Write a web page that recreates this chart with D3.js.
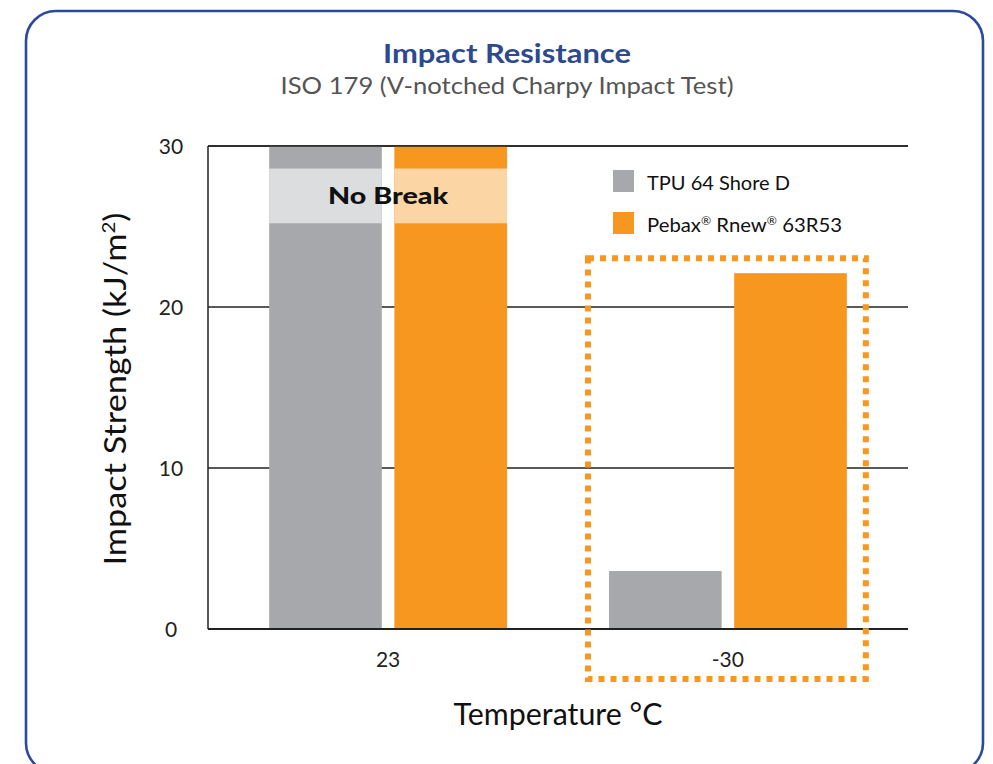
<!DOCTYPE html>
<html><head><meta charset="utf-8">
<script src="https://cdn.jsdelivr.net/npm/d3@7"></script>
<style>html,body{margin:0;padding:0;background:#fff;}svg{display:block;}</style>
</head><body>
<script>
const categories = ["23", "-30"];
const seriesNames = ["TPU 64 Shore D", "Pebax® Rnew® 63R53"];
const tpuValues = [30, 3.6];
const pebaxValues = [30, 22.1];
const noBreak = [true, false];
const noBreakRange = [25.2, 28.6];
const yTicks = [0, 10, 20, 30];
const highlightCategory = "-30";

const W = 993, H = 764;
const svg = d3.select("body").append("svg").attr("width", W).attr("height", H);
const font = "Lato, 'Open Sans', sans-serif";

svg.append("rect").attr("x", 26).attr("y", 11).attr("width", 957).attr("height", 762)
  .attr("rx", 30).attr("fill", "#fff").attr("stroke", "#2b4a9b").attr("stroke-width", 2.6);

svg.append("text").attr("x", 507).attr("y", 63).attr("text-anchor", "middle")
  .attr("font-family", font).attr("font-weight", 700).attr("font-size", 26)
  .attr("fill", "#2e4a8e").attr("textLength", 248).attr("lengthAdjust", "spacingAndGlyphs")
  .text("Impact Resistance");
svg.append("text").attr("x", 507).attr("y", 94).attr("text-anchor", "middle")
  .attr("font-family", font).attr("font-size", 23)
  .attr("fill", "#555").attr("textLength", 453).attr("lengthAdjust", "spacingAndGlyphs")
  .text("ISO 179 (V-notched Charpy Impact Test)");

const x0 = 208, x1 = 908, yb = 629, yt = 146;
const y = d3.scaleLinear().domain([0, 30]).range([yb, yt]);
const xg = d3.scaleBand().domain(categories).range([x0, x1]).paddingInner(0.3).paddingOuter(0.18);
const xs = d3.scaleBand().domain([0, 1]).range([0, xg.bandwidth()]).paddingInner(0.1);
const colors = ["#a7a8ab", "#f7971f"];
const light = ["#dcdddf", "#fbd5a4"];

const data = categories.map((c, i) => ({cat: c, vals: [tpuValues[i], pebaxValues[i]], nb: noBreak[i]}));

// gridlines
svg.append("g").selectAll("line").data(yTicks.filter(t => t > 0)).join("line")
  .attr("x1", x0).attr("x2", x1).attr("y1", d => y(d)).attr("y2", d => y(d))
  .attr("stroke", "#222").attr("stroke-width", 1.4);

// bars
const g = svg.append("g").selectAll("g").data(data).join("g")
  .attr("transform", d => `translate(${xg(d.cat)},0)`);
g.selectAll("rect.bar").data(d => d.vals.map((v, k) => ({v, k}))).join("rect")
  .attr("class", "bar")
  .attr("x", d => xs(d.k)).attr("width", xs.bandwidth())
  .attr("y", d => y(d.v)).attr("height", d => y(0) - y(d.v))
  .attr("fill", d => colors[d.k]);
g.filter(d => d.nb).selectAll("rect.nb").data([0, 1]).join("rect")
  .attr("class", "nb")
  .attr("x", k => xs(k)).attr("width", xs.bandwidth())
  .attr("y", y(noBreakRange[1])).attr("height", y(noBreakRange[0]) - y(noBreakRange[1]))
  .attr("fill", k => light[k]);
g.filter(d => d.nb).append("text")
  .attr("x", xg.bandwidth() / 2).attr("y", (y(noBreakRange[0]) + y(noBreakRange[1])) / 2 + 8)
  .attr("text-anchor", "middle").attr("font-family", font).attr("font-weight", 900)
  .attr("font-size", 23).attr("fill", "#111").attr("textLength", 120).attr("lengthAdjust", "spacingAndGlyphs")
  .text("No Break");

// axes lines
svg.append("line").attr("x1", x0).attr("x2", x1).attr("y1", yt).attr("y2", yt)
  .attr("stroke", "#222").attr("stroke-width", 1.5);
svg.append("line").attr("x1", x0).attr("x2", x1).attr("y1", yb).attr("y2", yb)
  .attr("stroke", "#222").attr("stroke-width", 2);
svg.append("line").attr("x1", x0).attr("x2", x0).attr("y1", yt).attr("y2", yb)
  .attr("stroke", "#222").attr("stroke-width", 1.5);

// y ticks
svg.append("g").selectAll("text").data(yTicks).join("text")
  .attr("x", 171).attr("y", d => y(d) + 8).attr("text-anchor", "middle")
  .attr("font-family", font).attr("font-size", 21).attr("fill", "#222").text(d => d);

// x ticks
svg.append("g").selectAll("text").data(categories).join("text")
  .attr("x", d => xg(d) + xg.bandwidth() / 2).attr("y", 667).attr("text-anchor", "middle")
  .attr("font-family", font).attr("font-size", 21).attr("fill", "#222").text(d => d);

// highlight dotted box
const hb = xg(highlightCategory);
svg.append("rect").attr("x", hb - 21).attr("y", y(22.1) - 15)
  .attr("width", xg.bandwidth() + 40).attr("height", 679 - (y(22.1) - 15))
  .attr("fill", "none").attr("stroke", "#f7971f").attr("stroke-width", 6)
  .attr("stroke-dasharray", "6,6");

// axis titles
svg.append("text").attr("transform", "translate(126,389) rotate(-90)").attr("text-anchor", "middle")
  .attr("font-family", font).attr("font-size", 30).attr("fill", "#111")
  .attr("textLength", 353).attr("lengthAdjust", "spacingAndGlyphs")
  .html('Impact Strength (kJ/m<tspan dy="-11" font-size="18">2</tspan><tspan dy="11">)</tspan>');
svg.append("text").attr("x", 558).attr("y", 725).attr("text-anchor", "middle")
  .attr("font-family", font).attr("font-size", 30).attr("fill", "#111")
  .attr("textLength", 209).attr("lengthAdjust", "spacingAndGlyphs")
  .text("Temperature °C");

// legend
const legendLengths = [143, 195];
const leg = svg.append("g").selectAll("g").data(seriesNames).join("g")
  .attr("transform", (d, i) => `translate(613,${170 + i * 42})`);
leg.append("rect").attr("width", 21).attr("height", 22).attr("fill", (d, i) => colors[i]);
leg.append("text").attr("x", 34).attr("y", 20).attr("font-family", font).attr("font-size", 20)
  .attr("fill", "#111")
  .attr("textLength", (d, i) => legendLengths[i]).attr("lengthAdjust", "spacingAndGlyphs")
  .each(function(d) {
    const t = d3.select(this);
    const parts = d.split("®");
    parts.forEach((p, j) => {
      const sp = t.append("tspan").text(p);
      if (j > 0) sp.attr("dy", 7);
      if (j < parts.length - 1) {
        t.append("tspan").attr("dy", -7).attr("font-size", 12).text("®");
      }
    });
  });
</script>
</body></html>
